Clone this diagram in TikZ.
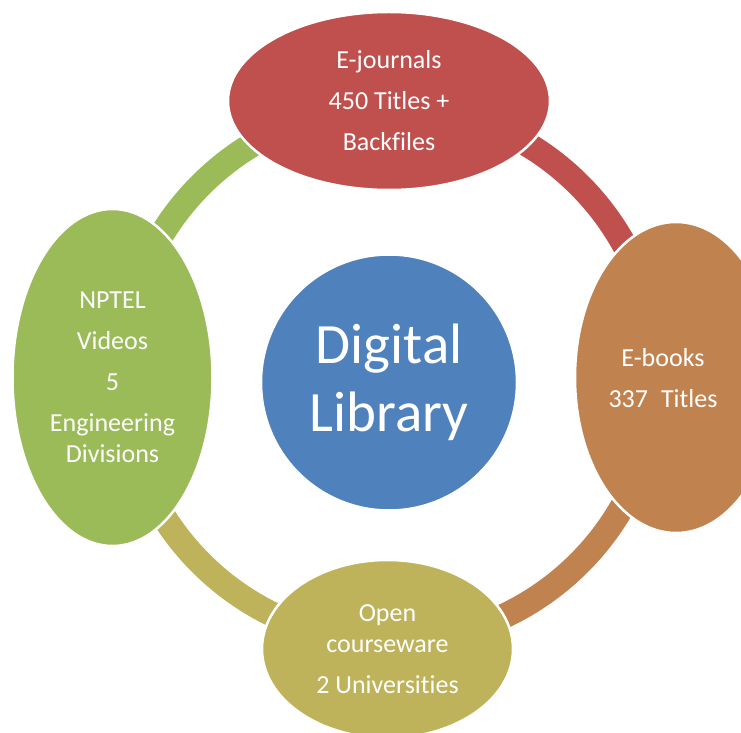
\documentclass[tikz,border=0pt]{standalone}
\usepackage{fontspec}
\setmainfont{Carlito}[Ligatures=NoCommon]
\usetikzlibrary{shapes.geometric}

\definecolor{hubblue}{HTML}{4F81BD}
\definecolor{jred}{HTML}{C0504D}
\definecolor{borange}{HTML}{C0834F}
\definecolor{colive}{HTML}{BEB35A}
\definecolor{vgreen}{HTML}{9BBB59}

\pgfdeclarelayer{background}
\pgfsetlayers{background,main}

\tikzset{
  petal/.style={ellipse, draw=white, line width=2.5pt, inner sep=0pt,
    text=white, align=center, font=\fontsize{26}{31}\selectfont},
  hubdisc/.style={circle, draw=white, line width=2.5pt, inner sep=0pt,
    text=white, align=center, font=\fontsize{57}{68}\selectfont},
  band/.style={line width=25pt, line cap=butt}
}

\begin{document}
\begin{tikzpicture}[x=1pt,y=1pt]
  \useasboundingbox (0,0) rectangle (741,732);

  % centre of the surrounding ring and its anchor points inside each petal
  \coordinate (hub) at (390,358);
  \coordinate (ring-n) at ([shift={(90:267.5pt)}]hub);
  \coordinate (ring-e) at ([shift={(0:267.5pt)}]hub);
  \coordinate (ring-s) at ([shift={(-90:267.5pt)}]hub);
  \coordinate (ring-w) at ([shift={(180:267.5pt)}]hub);

  % petals
  \node[petal, fill=jred, minimum width=322pt, minimum height=178pt]
    (journals) at (389,631) {E-journals\\[10pt]450 Titles +\\[10pt]Backfiles};
  \node[petal, fill=borange, minimum width=202pt, minimum height=311pt]
    (books) at (676,354.5) {};
  \node[text=white, align=center, font=\fontsize{26}{31}\selectfont]
    (books-text) at (663,354) {E-books\\[10pt]337\enspace Titles};
  \node[petal, fill=colive, minimum width=251pt, minimum height=178pt]
    (courseware) at (387.5,83) {Open\\courseware\\[10pt]2 Universities};
  \node[petal, fill=vgreen, minimum width=200pt, minimum height=337pt]
    (nptel) at (112.5,354.5) {NPTEL\\[10pt]Videos\\[10pt]5\\[10pt]Engineering\\Divisions};

  % central disc
  \node[hubdisc, fill=hubblue, minimum size=256pt] (library) at (389,349.5)
    {Digital\\Library};

  % ring segments running from petal to petal
  \begin{pgfonlayer}{background}
    \draw[band, vgreen] (ring-w) arc[start angle=180, end angle=90, radius=267.5pt];
    \draw[band, jred] (ring-n) arc[start angle=90, end angle=0, radius=267.5pt];
    \draw[band, borange] (ring-e) arc[start angle=0, end angle=-90, radius=267.5pt];
    \draw[band, colive] (ring-s) arc[start angle=-90, end angle=-180, radius=267.5pt];
  \end{pgfonlayer}
\end{tikzpicture}
\end{document}
